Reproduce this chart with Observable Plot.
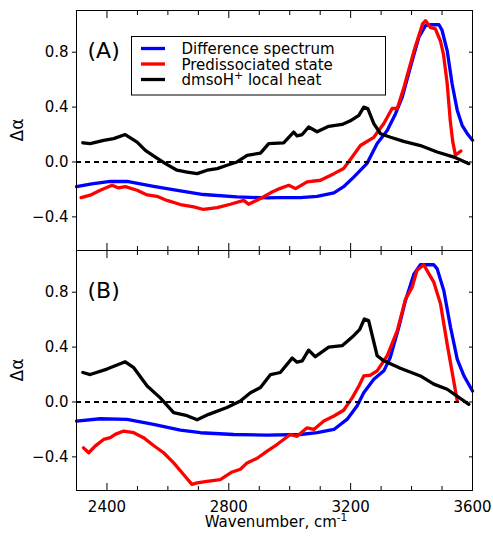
<!DOCTYPE html>
<html><head><meta charset="utf-8">
<script src="https://cdn.jsdelivr.net/npm/d3@7"></script>
<script src="https://cdn.jsdelivr.net/npm/@observablehq/plot@0.6"></script>
<style>
body{margin:0;background:#fff;}
#chart{width:493px;height:536px;position:relative;font-family:"DejaVu Sans",sans-serif;}
#chart svg{display:block;overflow:visible;}
.ylab{position:absolute;left:17px;font-family:"DejaVu Sans",sans-serif;font-size:17px;line-height:17px;color:#000;white-space:nowrap;transform:translate(-50%,-50%) rotate(-90deg);transform-origin:50% 50%;}
</style></head><body><div id="chart"></div>
<script>
// ---------- Panel A data ----------
const aBlueX = [2300,2350,2411,2466,2553,2641,2717,2827,2926,2959,3035,3090,3145,3177,3210,3254,3287,3320,3347,3369,3396,3424,3446,3462,3490,3500,3517,3533,3550,3566,3583,3600];
const aBlueY = [-0.18,-0.16,-0.142,-0.142,-0.177,-0.21,-0.237,-0.254,-0.262,-0.26,-0.26,-0.25,-0.225,-0.18,-0.11,-0.01,0.134,0.23,0.35,0.47,0.69,0.91,0.995,1.0,1.0,0.96,0.81,0.57,0.376,0.267,0.206,0.158];
const aRedX = [2315,2345,2378,2417,2438,2460,2499,2532,2564,2597,2641,2685,2717,2762,2805,2849,2865,2904,2937,2967,2997,3019,3057,3101,3145,3177,3205,3232,3276,3309,3336,3353,3375,3408,3436,3446,3462,3478,3495,3505,3517,3527,3535,3544,3562];
const aRedY = [-0.26,-0.242,-0.206,-0.17,-0.189,-0.18,-0.206,-0.24,-0.25,-0.28,-0.31,-0.327,-0.346,-0.332,-0.308,-0.28,-0.308,-0.266,-0.225,-0.194,-0.17,-0.194,-0.145,-0.133,-0.085,-0.048,0.036,0.12,0.18,0.28,0.39,0.39,0.545,0.81,1.006,1.03,0.98,0.97,0.88,0.78,0.57,0.3,0.15,0.05,0.08];
const aBlackX = [2321,2345,2389,2422,2460,2499,2526,2559,2592,2630,2663,2696,2729,2762,2794,2827,2860,2904,2931,2980,3013,3024,3041,3062,3090,3128,3172,3199,3227,3243,3256,3276,3298,3331,3374,3429,3484,3539,3588];
const aBlackY = [0.14,0.134,0.158,0.17,0.2,0.145,0.085,0.036,-0.012,-0.06,-0.073,-0.085,-0.06,-0.048,-0.024,0.0,0.049,0.065,0.134,0.14,0.218,0.19,0.2,0.255,0.22,0.26,0.274,0.30,0.34,0.40,0.39,0.28,0.206,0.18,0.15,0.12,0.073,0.036,-0.012];

// ---------- Panel B data ----------
const bBlueX = [2300,2378,2466,2553,2641,2707,2816,2926,3035,3090,3145,3188,3221,3243,3276,3309,3330,3358,3380,3408,3429,3473,3484,3506,3528,3550,3572,3600];
const bBlueY = [-0.139,-0.122,-0.127,-0.163,-0.205,-0.224,-0.237,-0.241,-0.237,-0.224,-0.2,-0.127,-0.03,0.068,0.166,0.227,0.324,0.544,0.74,0.934,1.0,1.0,0.97,0.81,0.544,0.31,0.19,0.08];
const bRedX = [2323,2340,2362,2389,2411,2427,2455,2488,2520,2553,2586,2619,2652,2679,2696,2728,2772,2811,2838,2860,2893,2926,2958,3002,3024,3057,3079,3112,3145,3177,3205,3227,3243,3265,3287,3320,3353,3380,3402,3418,3440,3457,3473,3495,3517,3550];
const bRedY = [-0.334,-0.37,-0.32,-0.273,-0.26,-0.236,-0.212,-0.224,-0.26,-0.317,-0.37,-0.444,-0.53,-0.6,-0.59,-0.578,-0.566,-0.51,-0.49,-0.444,-0.41,-0.358,-0.31,-0.237,-0.25,-0.188,-0.2,-0.139,-0.102,-0.06,0.03,0.117,0.19,0.195,0.227,0.337,0.52,0.75,0.837,0.96,1.0,0.934,0.873,0.715,0.42,0.007];
const bBlackX = [2321,2345,2400,2460,2488,2532,2575,2619,2663,2696,2734,2794,2838,2871,2904,2937,2969,3008,3024,3041,3062,3084,3128,3172,3210,3230,3245,3259,3287,3309,3363,3429,3473,3517,3588];
const bBlackY = [0.215,0.2,0.24,0.293,0.25,0.117,0.03,-0.078,-0.1,-0.13,-0.09,-0.04,0.007,0.068,0.105,0.2,0.215,0.32,0.29,0.3,0.378,0.33,0.4,0.41,0.483,0.53,0.605,0.593,0.337,0.3,0.246,0.19,0.13,0.093,-0.017];

// ---------- Axes / labels ----------
const xDomain = [2300, 3600];
const yDomain = [-0.645, 1.104];
const yTicks = [-0.4, 0, 0.4, 0.8];
const xMajor = [2400, 2800, 3200, 3600];
const xMinor = [2500, 2600, 2700, 2900, 3000, 3100, 3300, 3400, 3500];
const zeroLineX = [2300, 3590];
const panelLabels = ["(A)", "(B)"];
const legendLabels = ["Difference spectrum", "Predissociated state", "dmsoH^+ local heat"];
const seriesColors = ["#0000ff", "#ff0000", "#000000"];
const yLabel = "\u0394\u03b1";
const xLabel = "Wavenumber, cm";
const xLabelSup = "-1";

function rows(xs, ys) { return xs.map((x, i) => ({x, y: ys[i]})); }
const fmt = d => (d < 0 ? "\u2212" : "") + Math.abs(d).toFixed(1);

function panel({label, blue, red, black, height, marginTop, marginBottom, showX}) {
  const marks = [
    Plot.line(blue, {x: "x", y: "y", stroke: seriesColors[0], strokeWidth: 3.3}),
    Plot.line(red, {x: "x", y: "y", stroke: seriesColors[1], strokeWidth: 3.3}),
    Plot.line(black, {x: "x", y: "y", stroke: seriesColors[2], strokeWidth: 3.3}),
    Plot.ruleY([0], {x1: zeroLineX[0], x2: zeroLineX[1], stroke: "black", strokeWidth: 2, strokeDasharray: "5,4"}),
    Plot.frame({stroke: "black", strokeWidth: 1}),
    Plot.axisY(yTicks, {anchor: "left", tickSize: 4, tickPadding: 4, tickFormat: fmt, fontSize: 15, label: null}),
    Plot.axisY(yTicks, {anchor: "right", tickSize: -4, tickFormat: () => "", label: null}),
    Plot.axisX(xMajor, {anchor: "bottom", tickSize: -7, tickFormat: () => "", label: null}),
    Plot.axisX(xMinor, {anchor: "bottom", tickSize: -4, tickFormat: () => "", label: null}),
    Plot.axisX(xMajor, {anchor: "top", tickSize: -7, tickFormat: () => "", label: null}),
    Plot.axisX(xMinor, {anchor: "top", tickSize: -4, tickFormat: () => "", label: null}),
    Plot.text([label], {text: d => d, frameAnchor: "top-left", dx: 11, dy: 40.5, textAnchor: "start", lineAnchor: "middle", fontSize: 22})
  ];
  if (showX) {
    marks.push(Plot.axisX(xMajor, {anchor: "bottom", tickSize: 0, tickPadding: 11, tickFormat: d => String(d), fontSize: 15, label: null}));
  }
  return Plot.plot({
    width: 493, height, marginLeft: 76, marginRight: 21, marginTop, marginBottom,
    x: {domain: xDomain},
    y: {domain: yDomain},
    style: {fontFamily: "DejaVu Sans", fontSize: "15px", overflow: "visible", background: "transparent", color: "black"},
    marks
  });
}

const chart = document.getElementById("chart");
const svgA = panel({label: panelLabels[0], blue: rows(aBlueX, aBlueY), red: rows(aRedX, aRedY), black: rows(aBlackX, aBlackY), height: 250, marginTop: 10, marginBottom: 0, showX: false});
const svgB = panel({label: panelLabels[1], blue: rows(bBlueX, bBlueY), red: rows(bRedX, bRedY), black: rows(bBlackX, bBlackY), height: 286, marginTop: 0, marginBottom: 46, showX: true});
chart.appendChild(svgA);
chart.appendChild(svgB);

// rotated y-axis labels (HTML, centred on each frame)
[130, 370].forEach(cy => {
  const d = document.createElement("div");
  d.className = "ylab";
  d.style.top = cy + "px";
  d.textContent = yLabel;
  chart.appendChild(d);
});

// Legend in panel A
const lg = d3.select(svgA).append("g").attr("font-family", "DejaVu Sans").attr("font-size", 15).attr("text-anchor", "start");
lg.append("rect").attr("x", 131.5).attr("y", 36.5).attr("width", 254).attr("height", 58.5)
  .attr("fill", "white").attr("stroke", "black").attr("stroke-width", 1);
legendLabels.forEach((name, i) => {
  const y = 48.5 + i * 15.5;
  lg.append("line").attr("x1", 141).attr("x2", 165).attr("y1", y).attr("y2", y)
    .attr("stroke", seriesColors[i]).attr("stroke-width", 3.3);
  const t = lg.append("text").attr("x", 181.5).attr("y", y + 5.5).attr("fill", "black").attr("text-anchor", "start");
  const parts = name.split("^+");
  t.append("tspan").text(parts[0]);
  if (parts.length > 1) {
    t.append("tspan").attr("dy", -6).attr("font-size", 11).text("+");
    t.append("tspan").attr("dy", 6).text(parts[1]);
  }
});

// X axis label in panel B
const xl = d3.select(svgB).append("text").attr("x", 276).attr("y", 277)
  .attr("text-anchor", "middle").attr("font-family", "DejaVu Sans").attr("font-size", 15).attr("fill", "black");
xl.append("tspan").text(xLabel);
xl.append("tspan").attr("dy", -6).attr("font-size", 10.5).text(xLabelSup);
</script>
</body></html>
